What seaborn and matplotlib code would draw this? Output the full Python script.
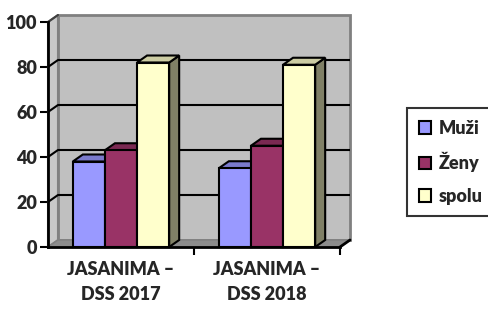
import pandas as pd
import seaborn as sns

import matplotlib
matplotlib.use('Agg')
import matplotlib.pyplot as plt
from matplotlib.patches import Polygon

categories = ["JASANIMA –\nDSS 2017", "JASANIMA –\nDSS 2018"]
series = ["Muži", "Ženy", "spolu"]
muzi = [38, 35]
zeny = [43, 45]
spolu = [82, 81]
y_ticks = [0, 20, 40, 60, 80, 100]

front_colors = ["#9999FF", "#993366", "#FFFFCC"]
top_colors = ["#7A7ACC", "#7A2952", "#CCCCA3"]
side_colors = ["#5C5C99", "#5C1F3D", "#808066"]

df = pd.DataFrame({
    "kategoria": categories * 3,
    "skupina": [s for s in series for _ in categories],
    "hodnota": muzi + zeny + spolu,
})

sns.set_style("white")
plt.rcParams['font.family'] = ['Lato', 'DejaVu Sans']
plt.rcParams['font.weight'] = 'heavy'
FS = 13

W, H = 488, 309
fig = plt.figure(figsize=(W / 100, H / 100), dpi=100)
ax = fig.add_axes([48 / W, 62 / H, 292 / W, 225 / H])
ax.set_facecolor("none")

sns.barplot(data=df, x="kategoria", y="hodnota", hue="skupina", hue_order=series,
            palette=front_colors, width=0.66, edgecolor="black", linewidth=1.5,
            saturation=1, ax=ax)

# bars from seaborn, before any extra patches are added
bars = sorted([p for c in ax.containers for p in c], key=lambda p: p.get_x())

ax.set_xlim(-0.5, 1.5)
ax.set_ylim(0, 100)

# depth of the fake 3d look, in data units
dx = 10 / (292 / 2)
dy = 7 / (225 / 100)

x_lo, x_hi = -0.5, 1.5
# back wall
ax.add_patch(Polygon([(x_lo + dx, dy), (x_hi + dx, dy), (x_hi + dx, 100 + dy), (x_lo + dx, 100 + dy)],
                     closed=True, facecolor="#C0C0C0", edgecolor="#808080", lw=2, zorder=0.5, clip_on=False))
# left wall
ax.add_patch(Polygon([(x_lo, 0), (x_lo + dx, dy), (x_lo + dx, 100 + dy), (x_lo, 100)],
                     closed=True, facecolor="#C8C8C8", edgecolor="#808080", lw=1.5, zorder=0.6, clip_on=False))
# floor
ax.add_patch(Polygon([(x_lo, 0), (x_hi, 0), (x_hi + dx, dy), (x_lo + dx, dy)],
                     closed=True, facecolor="#8C8C8C", edgecolor="#808080", lw=1, zorder=0.7, clip_on=False))
# grid lines on the walls
for v in y_ticks[1:-1]:
    ax.plot([x_lo, x_lo + dx, x_hi + dx], [v, v + dy, v + dy], color="black", lw=1.5,
            zorder=0.8, clip_on=False, solid_capstyle="butt")
ax.plot([x_lo, x_lo + dx], [100, 100 + dy], color="#404040", lw=1.5, zorder=0.8, clip_on=False)
ax.plot([x_hi, x_hi + dx], [0, dy], color="black", lw=2, zorder=2.6, clip_on=False)

# bars: add top and side faces
for i, p in enumerate(bars):
    k = i % 3
    x0, w, h = p.get_x(), p.get_width(), p.get_height()
    z = 3 + i * 0.1
    ax.add_patch(Polygon([(x0 + w, 0), (x0 + w + dx, dy), (x0 + w + dx, h + dy), (x0 + w, h)],
                         closed=True, facecolor=side_colors[k], edgecolor="black", lw=1.5,
                         zorder=z, clip_on=False))
    ax.add_patch(Polygon([(x0, h), (x0 + w, h), (x0 + w + dx, h + dy), (x0 + dx, h + dy)],
                         closed=True, facecolor=top_colors[k], edgecolor="black", lw=1.5,
                         zorder=z, clip_on=False))
    p.set_zorder(z + 0.05)
    p.set_clip_on(False)

for side in ["top", "right"]:
    ax.spines[side].set_visible(False)
for side in ["left", "bottom"]:
    ax.spines[side].set_color("black")
    ax.spines[side].set_linewidth(2)

ax.set_yticks(y_ticks)
ax.tick_params(axis="y", length=6, width=1.5, color="black", labelsize=FS, pad=2, left=True)
ax.set_xticks([0, 1])
ax.set_xticklabels(categories, linespacing=1.55)
ax.set_xticks([0.5, 1.5], minor=True)
ax.tick_params(axis="x", which="major", length=0, labelsize=FS, pad=10)
ax.tick_params(axis="x", which="minor", length=6, width=1.5, color="black", bottom=True)
ax.set_xlabel("")
ax.set_ylabel("")

handles, labels = ax.get_legend_handles_labels()
for hnd in handles:
    hnd.set_edgecolor("black")
    hnd.set_linewidth(1.5)
leg = ax.legend(handles, labels, loc="upper left", bbox_to_anchor=(407 / W, 1 - 108 / H),
                bbox_transform=fig.transFigure, frameon=True, fancybox=False,
                handlelength=0.7, handleheight=0.7, handletextpad=0.4,
                labelspacing=0.85, borderpad=0.65, borderaxespad=0, fontsize=FS)
leg.get_frame().set_edgecolor("black")
leg.get_frame().set_linewidth(1.5)

fig.savefig("out.png", dpi=100)
